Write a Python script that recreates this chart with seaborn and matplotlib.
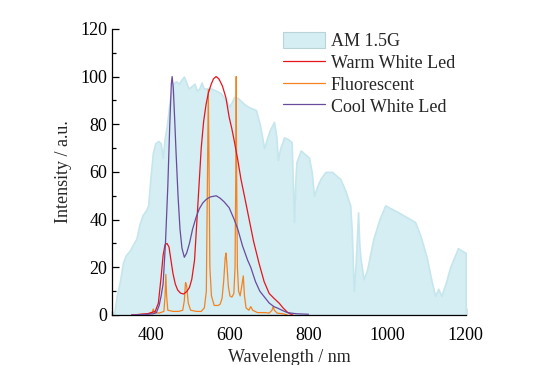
import numpy as np
import pandas as pd
import seaborn as sns
import matplotlib.pyplot as plt
from matplotlib.patches import Patch
from matplotlib.lines import Line2D
from matplotlib.ticker import MultipleLocator

# AM 1.5G solar spectrum (normalised)
am_wl = [305, 312, 320, 328, 335, 345, 355, 362, 370, 378, 387, 392, 398, 404, 410, 418,
         424, 429, 434, 440, 447, 455, 463, 470, 476, 483, 490, 495, 503, 510, 516, 522,
         528, 533, 540, 552, 565, 577, 590, 598, 604, 611, 620, 636, 650, 666, 676, 687,
         700, 712, 718, 722, 728, 738, 750, 757, 760, 763, 766, 769, 780, 801, 808, 814,
         822, 830, 843, 860, 881, 894, 906, 910, 915, 920, 926, 929, 932, 940, 949, 965,
         980, 995, 1029, 1071, 1085, 1100, 1112, 1122, 1130, 1138, 1150, 1160, 1180, 1200]
am_val = [0, 8, 14, 22, 25, 27, 30, 32, 38, 42, 44, 46, 58, 68, 72, 73,
          72, 66, 74, 80, 90, 97, 98, 97, 98.5, 100, 97, 95, 96, 97, 94, 95,
          97.5, 95, 95, 95, 94, 93, 90, 87.5, 89, 91.5, 91, 88.5, 87, 86, 80, 70,
          77, 81, 75, 65, 70, 74.5, 73.5, 72.5, 55, 39, 55, 64, 69, 66, 60, 50,
          54, 57, 60, 60, 57, 52, 46, 35, 10, 22, 43, 30, 24, 15, 19, 32,
          40, 46, 43, 39, 33, 24.5, 15, 8, 11, 8, 14, 20, 28, 26]

# warm white LED
warm_wl = [350, 390, 410, 418, 425, 430, 435, 440, 445, 450, 455, 461, 467, 474, 482, 490,
           497, 503, 510, 518, 527, 533, 539, 545, 552, 558, 565, 572, 581, 590, 598, 605,
           611, 620, 628, 638, 649, 660, 674, 687, 700, 712, 725, 735, 746, 755, 760]
warm_val = [0, 0.5, 1.5, 5, 16, 25, 29.5, 30, 28.5, 23, 17.5, 13, 10.5, 9.2, 8.8, 9.8,
            11.5, 15, 23, 45, 70, 81, 88, 93, 96.6, 99, 100, 99, 96, 91, 83, 78,
            73, 65, 57, 49, 40, 31, 21.7, 14, 9, 7, 5, 3, 1.2, 0.3, 0]

# fluorescent lamp
fluo_wl = [350, 395, 402, 405, 408, 420, 432, 435, 437, 439, 442, 455, 470, 480, 484, 487,
           489, 491, 494, 500, 515, 527, 535, 540, 543, 545, 547, 549, 553, 560, 570, 575,
           580, 584, 588, 590, 592, 596, 600, 605, 610, 613, 615, 616, 617, 619, 622, 626,
           630, 634, 637, 641, 648, 653, 658, 670, 690, 700, 707, 710, 713, 720, 735, 746]
fluo_val = [0, 0.5, 1, 2.5, 1, 0.8, 1.5, 8, 17, 8, 2, 1.5, 1.5, 2, 6, 13.6,
            13, 10.5, 5, 2, 1.5, 1.5, 3, 10, 60, 94.5, 60, 20, 8, 4, 4, 4.5,
            7, 14, 24, 26, 22, 12, 8, 7.5, 9, 20, 60, 100, 60, 20, 10, 8,
            12, 16.4, 8, 3, 2, 3.5, 2, 1, 1, 0.8, 2, 3.5, 2, 0.8, 0.5, 0]

# cool white LED
cool_wl = [350, 390, 405, 413, 420, 425, 430, 436, 442, 447, 451, 453, 456, 460, 463, 468,
           473, 478, 484, 490, 497, 505, 514, 522, 531, 540, 550, 565, 575, 585, 598, 611,
           620, 632, 645, 653, 665, 676, 687, 700, 712, 721, 735, 746, 770, 800]
cool_val = [0, 0.3, 0.5, 1, 4, 8, 13, 30, 54, 80, 97, 100, 95, 80, 68, 50,
            36, 28, 24.2, 26, 30, 36, 41, 44.5, 47, 48.5, 49.5, 50, 49, 47.5, 45, 40,
            36, 29, 23, 20, 14, 10, 7.7, 5, 3.5, 2.9, 1.8, 1, 0.5, 0.3]

labels = ['AM 1.5G', 'Warm White Led', 'Fluorescent', 'Cool White Led']
colors = ['#d4eef3', '#e8141c', '#f58220', '#6a4a9c']

sns.set_style('ticks')
plt.rcParams['font.family'] = ['Liberation Serif', 'DejaVu Serif']

fig = plt.figure(figsize=(5.41, 3.65), dpi=100)
ax = fig.add_axes([0.207, 0.137, 0.654, 0.784])

ax.fill_between(am_wl, am_val, 0, color=colors[0], edgecolor='#c6e6ed', lw=1.2, zorder=1)

sns.lineplot(x=warm_wl, y=warm_val, ax=ax, color=colors[1], lw=0.9, zorder=3)
sns.lineplot(x=fluo_wl, y=fluo_val, ax=ax, color=colors[2], lw=0.9, zorder=2)
sns.lineplot(x=cool_wl, y=cool_val, ax=ax, color=colors[3], lw=0.9, zorder=4)

ax.set_xlim(300, 1200)
ax.set_ylim(0, 120)
ax.xaxis.set_major_locator(MultipleLocator(200))
ax.xaxis.set_minor_locator(MultipleLocator(100))
ax.yaxis.set_major_locator(MultipleLocator(20))
ax.yaxis.set_minor_locator(MultipleLocator(10))
ax.tick_params(which='both', direction='in', labelsize=13, width=0.9, colors='black')
ax.tick_params(which='major', length=5)
ax.tick_params(which='minor', length=3)
ax.tick_params(axis='x', pad=9)
sns.despine(ax=ax)
for s in ['left', 'bottom']:
    ax.spines[s].set_linewidth(0.9)
    ax.spines[s].set_color('black')

ax.set_xlabel('Wavelength / nm', fontsize=13, labelpad=3)
ax.set_ylabel('Intensity / a.u.', fontsize=13, labelpad=6)

handles = [Patch(facecolor=colors[0], edgecolor='#b9d3d9', lw=0.8),
           Line2D([], [], color=colors[1], lw=0.9),
           Line2D([], [], color=colors[2], lw=0.9),
           Line2D([], [], color=colors[3], lw=0.9)]
ax.legend(handles, labels, loc='upper left', bbox_to_anchor=(0.483, 0.99),
          frameon=False, fontsize=13, borderpad=0, handlelength=2.35,
          handleheight=1.0, handletextpad=0.3, labelspacing=0.2, borderaxespad=0)

fig.savefig('out.png', dpi=100)
